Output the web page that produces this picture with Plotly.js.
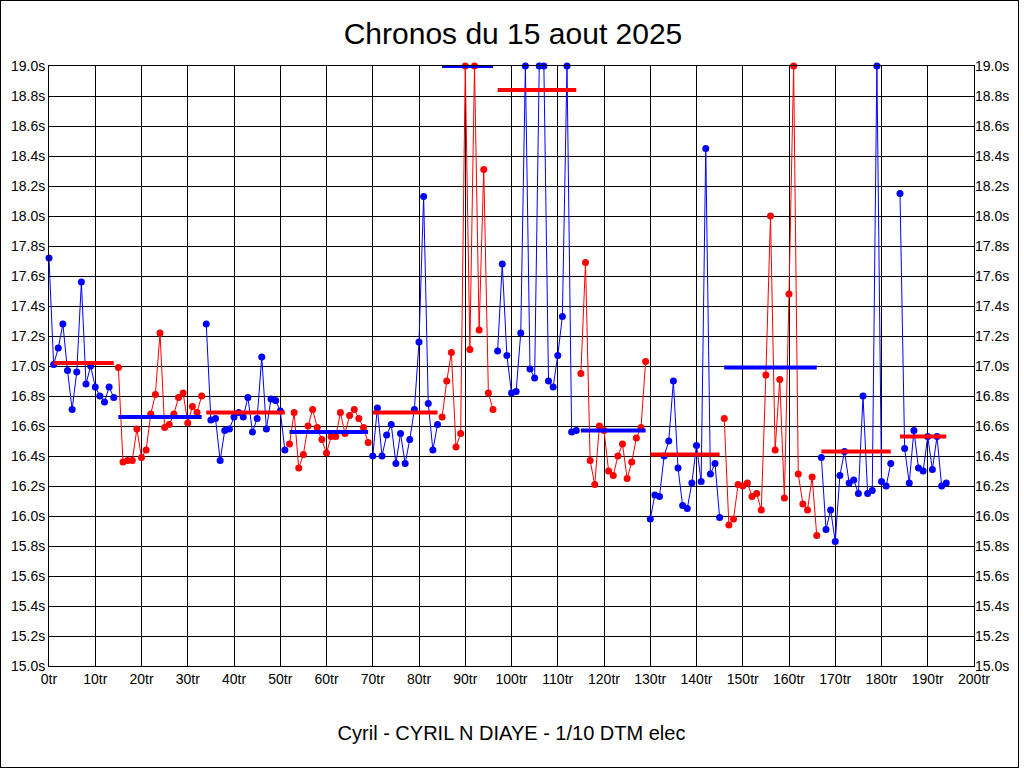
<!DOCTYPE html>
<html>
<head>
<meta charset="utf-8">
<script src="https://cdn.plot.ly/plotly-3.0.1.min.js"></script>
<style>
html,body{margin:0;padding:0;background:#fff;}
#wrap{position:relative;width:1024px;height:768px;}
#chart{position:absolute;left:0;top:0;width:1024px;height:768px;}
#frame{position:absolute;left:0;top:0;width:1019px;height:768px;box-sizing:border-box;border:1px solid #000;pointer-events:none;}
</style>
</head>
<body>
<div id="wrap"><div id="chart"></div><div id="frame"></div></div>
<script>
// Lap times (s) per stint, values above 19.0 s shown clipped at 19.0
const t1  = [17.72,17.01,17.12,17.28,16.97,16.71,16.96,17.56,16.88,17.00,16.86,16.80,16.76,16.86,16.79];
const t2  = [16.99,16.36,16.37,16.37,16.58,16.39,16.44,16.68,16.81,17.22,16.59,16.61,16.68,16.79,16.82,16.62,16.73,16.69,16.80];
const t3  = [17.28,16.64,16.65,16.37,16.57,16.58,16.66,16.69,16.66,16.79,16.56,16.65,17.06,16.58,16.78,16.77,16.70,16.44];
const t4  = [16.48,16.69,16.32,16.41,16.60,16.71,16.59,16.51,16.42,16.53,16.53,16.69,16.55,16.67,16.71,16.65,16.59,16.49];
const t5  = [16.40,16.72,16.40,16.54,16.61,16.35,16.55,16.35,16.51,16.71,17.16,18.13,16.75,16.44,16.61];
const t6  = [16.66,16.90,17.09,16.46,16.55,19.00,17.11,19.00,17.24,18.31,16.82,16.71];
const t7  = [17.10,17.68,17.07,16.82,16.83,17.22,19.00,16.98,16.92,19.00,19.00,16.90,16.86,17.07,17.33,19.00,16.56,16.57];
const t8  = [16.95,17.69,16.37,16.21,16.60,16.57,16.30,16.27,16.40,16.48,16.25,16.36,16.52,16.59,17.03];
const t9  = [15.98,16.14,16.13,16.40,16.50,16.90,16.32,16.07,16.05,16.22,16.47,16.23,18.45,16.28,16.35,15.99];
const t10 = [16.65,15.94,15.98,16.21,16.20,16.22,16.13,16.15,16.04,16.94,18.00,16.44,16.91,16.12,17.48,19.00,16.28,16.08,16.04,16.26,15.87];
const t11 = [16.39,15.91,16.04,15.83,16.27,16.43,16.22,16.24,16.15,16.80,16.15,16.17,19.00,16.23,16.20,16.35];
const t12 = [18.15,16.45,16.22,16.57,16.32,16.30,16.53,16.31,16.53,16.20,16.22];
const stintTimes = [t1,t2,t3,t4,t5,t6,t7,t8,t9,t10,t11,t12];

// First lap number of each stint
const stintFirstLap = [0,15,34,52,70,85,97,115,130,146,167,184];
// Driver of each stint (A = blue, B = red)
const stintDriver = ['A','B','A','B','A','B','A','B','A','B','A','A'];

// Stint average lines
const avgFrom  = [1,15,34,52,70,85,97,115,130,146,167,184];
const avgTo    = [14,33,51,69,84,96,114,129,145,166,182,194];
const avgValue = [17.02,16.66,16.69,16.56,16.69,19.00,18.84,16.57,16.41,16.99,16.43,16.53];

// Axis ticks
const yTicks = [15.0,15.2,15.4,15.6,15.8,16.0,16.2,16.4,16.6,16.8,17.0,17.2,17.4,17.6,17.8,18.0,18.2,18.4,18.6,18.8,19.0];
const xTicks = [0,10,20,30,40,50,60,70,80,90,100,110,120,130,140,150,160,170,180,190,200];

const colorOf = {A:'#0000ff', B:'#ff0000'};
const avgColorOf = {A:'#ff0000', B:'#0000ff'};

const traces = [];
stintTimes.forEach((times, i) => {
  const laps = times.map((_, k) => stintFirstLap[i] + k);
  const c = colorOf[stintDriver[i]];
  traces.push({
    type:'scatter', mode:'lines+markers', x:laps, y:times,
    line:{color:c, width:1}, marker:{color:c, size:7},
    cliponaxis:false, showlegend:false, hoverinfo:'x+y'
  });
});
avgValue.forEach((v, i) => {
  traces.push({
    type:'scatter', mode:'lines', x:[avgFrom[i], avgTo[i]], y:[v, v],
    line:{color:avgColorOf[stintDriver[i]], width:4},
    showlegend:false, hoverinfo:'y'
  });
});
// companion trace so the right-hand axis is drawn
traces.push({type:'scatter', mode:'markers', x:[xTicks[0]], y:[yTicks[0]], yaxis:'y2',
  marker:{opacity:0}, showlegend:false, hoverinfo:'skip'});

const font = {family:'"Liberation Sans", Arial, sans-serif', color:'#000'};

const layout = {
  width:1024, height:768,
  margin:{l:49, r:50, t:66, b:102, pad:0},
  paper_bgcolor:'#fff', plot_bgcolor:'#fff',
  font: Object.assign({size:14}, font),
  title:{text:'Chronos du 15 aout 2025', font:Object.assign({size:30}, font),
         x:513/1024, xref:'container', xanchor:'center', y:1-33/768, yref:'container', yanchor:'middle'},
  xaxis:{
    range:[0,200], tickmode:'array', tickvals:xTicks, ticktext:xTicks.map(v=>v+'tr'),
    showgrid:true, gridcolor:'#000', gridwidth:1, zeroline:false,
    showline:true, linecolor:'#000', linewidth:1, mirror:true, ticks:'',
    tickfont:Object.assign({size:14}, font),
    title:{text:'Cyril - CYRIL N DIAYE - 1/10 DTM elec', font:Object.assign({size:20}, font), standoff:40},
    automargin:false
  },
  yaxis:{
    range:[15,19], tickmode:'array', tickvals:yTicks, ticktext:yTicks.map(v=>v.toFixed(1)+'s'),
    showgrid:true, gridcolor:'#000', gridwidth:1, zeroline:false,
    showline:true, linecolor:'#000', linewidth:1, mirror:true, ticks:'',
    tickfont:Object.assign({size:14}, font), automargin:false
  },
  yaxis2:{
    overlaying:'y', side:'right', range:[15,19], tickmode:'array', tickvals:yTicks,
    ticktext:yTicks.map(v=>v.toFixed(1)+'s'), showgrid:false, zeroline:false,
    showline:false, ticks:'', tickfont:Object.assign({size:14}, font), automargin:false
  }
};

Plotly.newPlot('chart', traces, layout, {staticPlot:true, displayModeBar:false});
</script>
</body>
</html>
